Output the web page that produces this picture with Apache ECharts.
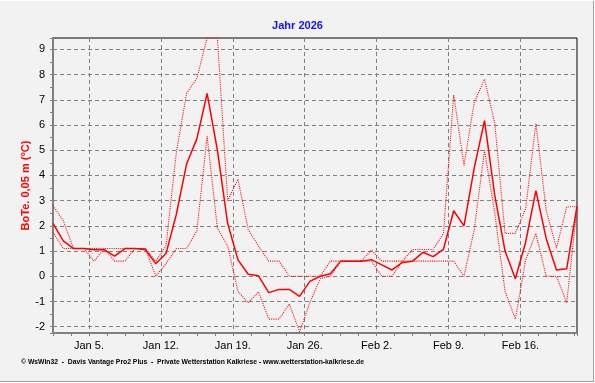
<!DOCTYPE html>
<html>
<head>
<meta charset="utf-8">
<script src="https://cdn.jsdelivr.net/npm/echarts@6/dist/echarts.min.js"></script>
<style>
html,body{margin:0;padding:0;background:#f2f2f2;}
#chart{width:595px;height:383px;}
</style>
</head>
<body>
<div id="chart"></div>
<script>
// Day of year 2026 (Jan 1 = 1 ... Feb 21 = 52), values plotted at noon
const dayOfYear = [1,2,3,4,5,6,7,8,9,10,11,12,13,14,15,16,17,18,19,20,21,22,23,24,25,26,
  27,28,29,30,31,32,33,34,35,36,37,38,39,40,41,42,43,44,45,46,47,48,49,50,51,52];

// Soil temperature 0.05 m, daily mean (solid)
const meanTemp = [2.1,1.4,1.1,1.1,1.05,1.05,0.8,1.1,1.1,1.05,0.5,0.9,2.45,4.45,5.45,7.25,5.0,2.1,
  0.65,0.08,0.02,-0.65,-0.52,-0.52,-0.8,-0.2,0.0,0.1,0.6,0.6,0.6,0.66,0.45,0.25,0.55,0.6,
  0.95,0.78,1.07,2.6,2.0,4.3,6.17,3.2,1.0,-0.1,1.35,3.4,1.5,0.25,0.3,2.77];

// daily maximum (dotted)
const maxTemp = [2.8,2.2,1.1,1.1,1.1,1.1,1.1,1.1,1.1,1.1,0.6,1.2,4.9,7.25,7.85,9.45,9.45,3.0,
  3.85,1.85,1.2,0.6,0.6,0.0,0.0,0.0,0.0,0.6,0.6,0.6,0.6,1.04,0.6,0.6,0.6,1.06,
  1.06,1.06,1.7,7.19,4.4,6.9,7.82,6.06,1.7,1.7,2.68,6.06,2.62,1.12,2.76,2.76];

// daily minimum (dotted)
const minTemp = [1.75,1.1,1.1,1.1,0.6,1.1,0.6,0.6,1.1,1.1,0.0,0.5,1.1,1.1,1.8,5.55,1.9,1.2,
  -0.6,-1.05,-0.62,-1.7,-1.7,-1.1,-2.2,-1.05,-0.1,0.0,0.6,0.6,0.6,0.6,0.0,0.0,0.6,0.6,
  0.6,0.6,0.6,0.6,0.0,1.85,5.0,2.49,-0.6,-1.7,0.65,1.7,0.0,0.0,-1.05,2.75];

// Week tick labels (x = 0 is Jan 5, 00:00; one label every 7 days)
const xTickLabels = ['Jan 5.','Jan 12.','Jan 19.','Jan 26.','Feb 2.','Feb 9.','Feb 16.'];
const yTickLabels = ['-2','-1','0','1','2','3','4','5','6','7','8','9'];

const ORIGIN_DOY = 5; // Jan 5
function xOf(doy){ return (doy - 1 + 0.5) - (ORIGIN_DOY - 1); }

function pts(vals){ return dayOfYear.map((d,i)=>[xOf(d), vals[i]]); }

const T = 'rgba(0,0,0,0)';
const GRID = '#808080';
const FONT = 'Liberation Sans, Arial, sans-serif';

const chart = echarts.init(document.getElementById('chart'), null, {renderer:'canvas'});
chart.setOption({
  animation:false,
  backgroundColor:'#f2f2f2',
  title:{
    text:'Jahr 2026', left:'center', top:15,
    textStyle:{color:'#1010ff', fontWeight:'bold', fontSize:11, fontFamily:FONT}
  },
  grid:{left:53, right:18, top:38, bottom:50, show:true, borderColor:'#000', borderWidth:1, backgroundColor:'transparent'},
  xAxis:{
    type:'value', min:-3.5, max:47.5, interval:1.75,
    axisLine:{show:true, onZero:false, lineStyle:{color:GRID, width:2}},
    axisTick:{show:true, length:3, lineStyle:{color:GRID, width:1}},
    axisLabel:{
      color:'#000', fontSize:11, fontFamily:FONT, margin:7, hideOverlap:false,
      showMinLabel:true, showMaxLabel:true,
      formatter:function(v){
        const w = v/7, r = Math.round(w);
        if (Math.abs(w-r) < 1e-6 && r >= 0 && r < xTickLabels.length) return xTickLabels[r];
        return '';
      }
    },
    splitLine:{show:true, lineStyle:{color:[T,T,GRID,T], width:1, type:[4,3]}}
  },
  yAxis:{
    type:'value', min:-2.25, max:9.45, minInterval:0.5, maxInterval:0.5, splitNumber:23,
    axisLine:{show:true, onZero:false, lineStyle:{color:GRID, width:2}},
    axisTick:{show:true, length:3, lineStyle:{color:GRID, width:1}},
    axisLabel:{
      color:'#000', fontSize:11, fontFamily:FONT, margin:8,
      formatter:function(v){
        const r = Math.round(v);
        if (Math.abs(v-r) < 1e-6) { const i = r + 2; return yTickLabels[i] || ''; }
        return '';
      }
    },
    splitLine:{show:true, lineStyle:{color:[T,GRID], width:1, type:[4,3]}}
  },
  graphic:[
    {type:'text', x:26, y:185.5, rotation:Math.PI/2,
     style:{text:'BoTe. 0,05 m (°C)', fill:'#ff0000', font:'bold 11px '+FONT, align:'center', verticalAlign:'middle'}},
    {type:'text', left:21, top:359, style:{text:'© WsWin32  -  Davis Vantage Pro2 Plus  -  Private Wetterstation Kalkriese - www.wetterstation-kalkriese.de', fill:'#000', font:'bold 6.8px '+FONT}},
    {type:'line', shape:{x1:593.5, y1:0, x2:593.5, y2:382}, style:{stroke:'#a0a0a0', lineWidth:1}},
    {type:'line', shape:{x1:0, y1:381.5, x2:594, y2:381.5}, style:{stroke:'#a0a0a0', lineWidth:1}},
    {type:'line', shape:{x1:0, y1:0.5, x2:594, y2:0.5}, style:{stroke:'#ffffff', lineWidth:1}},
    {type:'line', shape:{x1:594.5, y1:0, x2:594.5, y2:383}, style:{stroke:'#ffffff', lineWidth:1}},
    {type:'line', shape:{x1:0, y1:382.5, x2:595, y2:382.5}, style:{stroke:'#ffffff', lineWidth:1}}
  ],
  series:[
    {name:'Max', type:'line', data:pts(maxTemp), symbol:'none', clip:true,
     lineStyle:{color:'#ff0000', width:1.1, type:[1,1.2]}, z:2},
    {name:'Min', type:'line', data:pts(minTemp), symbol:'none', clip:true,
     lineStyle:{color:'#ff0000', width:1.1, type:[1,1.2]}, z:2},
    {name:'Mittel', type:'line', data:pts(meanTemp), symbol:'none', clip:true,
     lineStyle:{color:'#ff0000', width:1.5}, z:3}
  ]
});
</script>
</body>
</html>
